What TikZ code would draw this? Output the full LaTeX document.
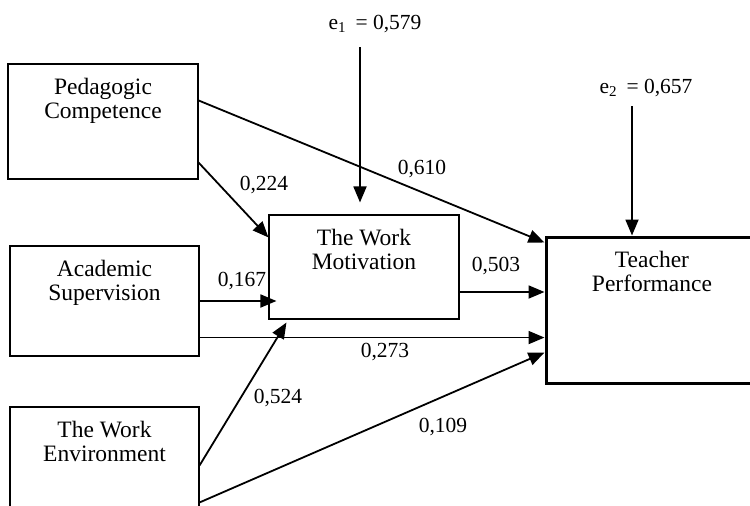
\documentclass[tikz,border=0pt]{standalone}
\usepackage{fontspec}
\setmainfont{Liberation Serif}
\usepackage{tikz}
\usetikzlibrary{positioning}
\usetikzlibrary{arrows.meta,shapes}
\tikzstyle{varbox}=[rectangle,draw=black,line width=1.1pt,inner sep=0pt]
\tikzstyle{boxtext}=[inner sep=0pt,align=center,font=\fontsize{23.5}{24}\selectfont]
\tikzstyle{weight}=[inner sep=0pt,anchor=base,font=\fontsize{21.5}{24}\selectfont]
\tikzstyle{path}=[line width=1.8pt,-{Triangle[length=16pt,width=13pt]}]

\begin{document}
\begin{tikzpicture}[x=1pt,y=-1pt]

  \clip (0,0) rectangle (750,506);

  % variables
  \foreach \x/\y/\w/\h/\name/\label in {
      103/121.5/190/115/pc/{Pedagogic\\Competence},
      104.5/301/189/110/as/{Academic\\Supervision},
      104.5/467/189/120/we/{The Work\\Environment},
      364/267/190/104/wm/{The Work\\Motivation}}
  {
    \node[varbox, minimum width=\w pt, minimum height=\h pt] (\name) at (\x,\y) {};
    \node[boxtext, below=15pt of \name.north] (\name text) {\label};
  }
  \node[varbox, line width=3pt, minimum width=212pt, minimum height=146pt] (tp) at (652,310) {};
  \node[boxtext, below=15pt of tp.north] (tp text) {Teacher\\Performance};

  % errors
  \node[weight] (e1) at (375,29) {e\textsubscript{1}\hspace{4pt} = 0,579};
  \node[weight] (e2) at (646,93) {e\textsubscript{2}\hspace{4pt} = 0,657};
  \coordinate (e1foot) at (360,47);
  \coordinate (e2foot) at (632,106);
  \draw[path, shorten >=12pt] (e1foot) -- (e1foot |- wm.north);
  \draw[path] (e2foot) -- (e2foot |- tp.north);

  % paths
  \coordinate (asout) at ([yshift=19pt]as.south east);
  \coordinate (wmout) at ([yshift=-25pt]wm.east);
  \draw[path] ([yshift=-37pt]pc.north east) -- ([yshift=-7pt]tp.north west);
  \draw[path] ([yshift=17pt]pc.south east) -- ([yshift=-23pt]wm.north west);
  \draw[path, shorten >=-8pt] (as.east) -- (as.east -| wm.west);
  \draw[path] (asout) -- (asout -| tp.west);
  \draw[path] ([yshift=-59pt]we.north east) -- ([xshift=18pt,yshift=-3pt]wm.south west);
  \draw[path] ([yshift=-96pt]we.north east) -- ([yshift=32pt]tp.south west);
  \draw[path] (wmout) -- (wmout -| tp.west);

  % coefficients
  \foreach \x/\y/\name/\label in {
      422/174/wpctp/{0,610}, 264/190/wpcwm/{0,224}, 242/286/waswm/{0,167},
      496/271/wwmtp/{0,503}, 385/357/wastp/{0,273}, 278/403/wwewm/{0,524},
      443/432/wwetp/{0,109}}
    \node[weight] (\name) at (\x,\y) {\label};

\end{tikzpicture}
\end{document}
